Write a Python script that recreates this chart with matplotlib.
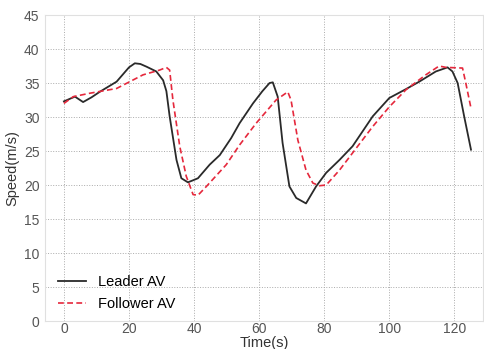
import numpy as np
import matplotlib
matplotlib.use('Agg')
import matplotlib.pyplot as plt

plt.rcParams['font.family'] = ['Liberation Sans', 'DejaVu Sans']

# leader speed trace
t_lead = [0, 3.4, 5.9, 8.5, 11, 16.2, 20, 21.8, 23.5, 25.4, 28.4, 30.5, 31.5, 32.5,
          34.6, 36.1, 38.1, 39.7, 41.2, 44.8, 47.9, 51.4, 54, 58.1, 61, 63.2, 64.2,
          65.7, 67.2, 69.3, 71.4, 74.4, 77.5, 80.6, 84.7, 88.7, 94.9, 100, 105.1,
          109.2, 114.3, 117.9, 119.4, 121, 123, 125.1]
v_lead = [32.3, 33.0, 32.2, 32.9, 33.7, 35.2, 37.3, 37.9, 37.8, 37.4, 36.7, 35.4, 33.8, 30.1,
          23.7, 21.0, 20.4, 20.7, 21.0, 23.0, 24.4, 26.9, 29.1, 32.0, 33.8, 35.0, 35.1,
          33.0, 26.2, 19.8, 18.1, 17.3, 19.8, 21.8, 23.7, 25.7, 30.1, 32.8, 34.1,
          35.2, 36.7, 37.3, 36.7, 35.0, 30.1, 25.2]

# follower speed trace
t_foll = [0, 2.9, 8, 16.2, 24.3, 29.4, 31.5, 32.5, 33.5, 35.6, 37.6, 39.7, 41.2, 43.8,
          49.9, 54, 59.1, 65.2, 68.8, 69.8, 71.9, 74.4, 76.5, 78.5, 80.6, 84.7, 94.9,
          100, 105.1, 111.2, 115.3, 117.4, 122.5, 123.5, 125.1]
v_foll = [32.0, 33.0, 33.5, 34.2, 36.2, 36.9, 37.3, 36.9, 32.5, 25.7, 21.3, 18.6, 18.5, 19.8,
          23.0, 25.9, 29.1, 32.5, 33.7, 32.5, 26.6, 22.2, 20.3, 19.9, 20.0, 22.2, 28.6,
          31.5, 34.0, 36.2, 37.5, 37.3, 37.2, 35.0, 31.3]

fig = plt.figure(figsize=(4.84, 3.49), dpi=100)
ax = fig.add_axes([0.093, 0.08, 0.905, 0.877])

ax.plot(t_lead, v_lead, color='#2a2a2a', lw=1.3, label='Leader AV')
ax.plot(t_foll, v_foll, color='#e5283c', lw=1.2, ls=(0, (3.5, 2)), label='Follower AV')

ax.set_xlim(-5.8, 128.8)
ax.set_ylim(0, 45)
ax.set_xticks(np.arange(0, 121, 20))
ax.set_yticks(np.arange(0, 46, 5))
ax.grid(True, color='#aaaaaa', ls=':', lw=0.7)
ax.tick_params(axis='both', length=0, labelsize=10, colors='#555555')
ax.tick_params(axis='x', pad=1)
ax.tick_params(axis='y', pad=4)
for s in ax.spines.values():
    s.set_color('#e0e0e0')
    s.set_linewidth(0.8)

ax.set_xlabel('Time(s)', fontsize=10.5, color='#333333', labelpad=0)
ax.set_ylabel('Speed(m/s)', fontsize=10.5, color='#333333', labelpad=3)

ax.legend(loc='lower left', frameon=False, fontsize=10.5, handlelength=1.9,
          bbox_to_anchor=(0.0, -0.01), labelspacing=0.55, handletextpad=0.8)

fig.savefig('out.png', dpi=100)
